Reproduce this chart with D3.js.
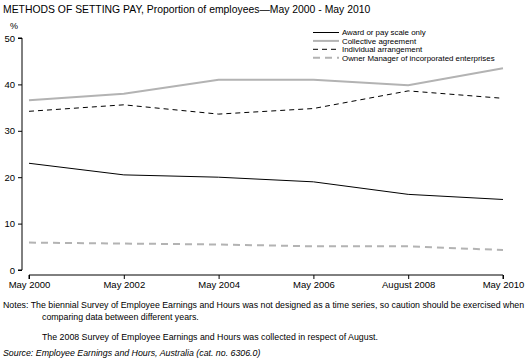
<!DOCTYPE html>
<html><head><meta charset="utf-8">
<script src="https://cdn.jsdelivr.net/npm/d3@7"></script>
<style>body{margin:0;background:#fff}svg{display:block;font-family:"Liberation Sans",Arial,sans-serif}</style>
</head><body><svg id="c" width="529" height="363"></svg>
<script>
const categories = ["May 2000","May 2002","May 2004","May 2006","August 2008","May 2010"];
const award = [23.0,20.5,20.0,19.0,16.3,15.2];
const collective = [36.6,38.0,41.0,41.0,39.8,43.5];
const individual = [34.2,35.6,33.6,34.8,38.6,37.0];
const owner = [5.9,5.7,5.5,5.1,5.1,4.3];
const yTicks = [0,10,20,30,40,50];
const seriesNames = ["Award or pay scale only","Collective agreement","Individual arrangement","Owner Manager of incorporated enterprises"];

const series = [
 {name:seriesNames[0], values:award, color:"#000", width:1, dash:null},
 {name:seriesNames[1], values:collective, color:"#b3b3b3", width:2, dash:null},
 {name:seriesNames[2], values:individual, color:"#000", width:1, dash:"5,4"},
 {name:seriesNames[3], values:owner, color:"#b3b3b3", width:2, dash:"7,5"}
];

const svg = d3.select("#c");
const x = d3.scalePoint().domain(categories).range([29,503]);
const y = d3.scaleLinear().domain([0,50]).range([270,38]);

svg.append("text").attr("x",3).attr("y",13).attr("font-size",10.4).text("METHODS OF SETTING PAY, Proportion of employees\u2014May 2000 - May 2010");
svg.append("text").attr("x",10).attr("y",29).attr("font-size",9).text("%");

const ya = svg.append("g").attr("transform","translate(22,0)")
 .call(d3.axisLeft(y).tickValues(yTicks).tickSize(4).tickPadding(3));
ya.select(".domain").attr("d","M-4,"+y(50)+"H0V"+y(0)+"H-4").attr("stroke","#000");
ya.selectAll("text").attr("font-size",9.5).attr("font-family","Liberation Sans, Arial, sans-serif");

const xa = svg.append("g").attr("transform","translate(0,275)")
 .call(d3.axisBottom(x).tickSize(4).tickPadding(2));
xa.select(".domain").attr("d","M"+x(categories[0])+",4V0H"+x(categories[5])+"V4").attr("stroke","#000");
xa.selectAll("text").attr("font-size",9.5).attr("font-family","Liberation Sans, Arial, sans-serif");

const line = d3.line().x((d,i)=>x(categories[i])).y(d=>y(d));
series.forEach(s=>{
 svg.append("path").attr("d",line(s.values)).attr("fill","none")
  .attr("stroke",s.color).attr("stroke-width",s.width).attr("stroke-dasharray",s.dash);
});

const lg = svg.append("g");
series.forEach((s,i)=>{
 const yy = 32.5 + i*8.4;
 lg.append("line").attr("x1",313).attr("x2",339).attr("y1",yy).attr("y2",yy)
  .attr("stroke",s.color).attr("stroke-width",s.width).attr("stroke-dasharray",s.dash);
 lg.append("text").attr("x",342).attr("y",yy+2.8).attr("font-size",7.9).text(s.name);
});

const notes = [
 {x:3,y:308,t:"Notes: The biennial Survey of Employee Earnings and Hours was not designed as a time series, so caution should be exercised when"},
 {x:42,y:320,t:"comparing data between different years."},
 {x:42,y:340,t:"The 2008 Survey of Employee Earnings and Hours was collected in respect of August."}
];
notes.forEach(n=>svg.append("text").attr("x",n.x).attr("y",n.y).attr("font-size",8.8).text(n.t));
const src = svg.append("text").attr("x",3).attr("y",356).attr("font-size",8.8).attr("font-style","italic");
src.append("tspan").text("Source: Employee Earnings and Hours, Australia ");
src.append("tspan").text("(cat. no. 6306.0)");
</script></body></html>
